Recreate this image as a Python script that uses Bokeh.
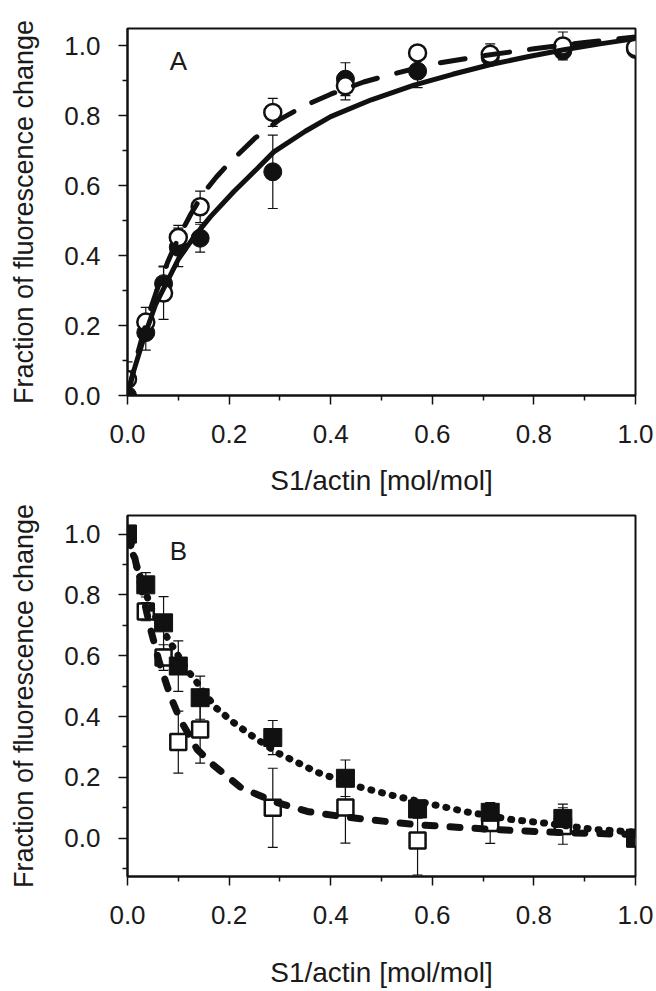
from bokeh.plotting import figure
from bokeh.models import (FixedTicker, Whisker, TeeHead, ColumnDataSource, Label,
                          Range1d, NumeralTickFormatter)
from bokeh.layouts import column
from bokeh.embed import file_html
from bokeh.resources import INLINE

# ---------------- data ----------------
x_ratio = [0.0, 0.036, 0.071, 0.1, 0.143, 0.286, 0.429, 0.571, 0.714, 0.857, 1.0]

# Panel A
a_filled = [0.0, 0.18, 0.32, 0.424, 0.45, 0.64, 0.905, 0.928, 0.967, 0.986, 0.99]
a_filled_err = [0.0, 0.05, 0.05, 0.055, 0.04, 0.105, 0.047, 0.047, 0.02, 0.02, 0.0]
a_open = [0.046, 0.21, 0.293, 0.452, 0.54, 0.81, 0.886, 0.98, 0.976, 1.0, 0.995]
a_open_err = [0.05, 0.042, 0.075, 0.035, 0.045, 0.04, 0.04, 0.02, 0.03, 0.04, 0.0]

a_solid_x = [0, 0.012, 0.032, 0.055, 0.078, 0.101, 0.131, 0.163, 0.209, 0.255, 0.288,
             0.35, 0.4, 0.48, 0.564, 0.64, 0.715, 0.79, 0.859, 0.93, 1.0]
a_solid_y = [0, 0.069, 0.164, 0.259, 0.326, 0.392, 0.454, 0.511, 0.583, 0.649, 0.697,
             0.756, 0.798, 0.846, 0.888, 0.919, 0.947, 0.97, 0.989, 1.006, 1.021]
a_dash_x = [0, 0.02, 0.04, 0.06, 0.08, 0.1, 0.125, 0.15, 0.175, 0.2, 0.25, 0.3, 0.35,
            0.4, 0.465, 0.518, 0.6, 0.7, 0.8, 0.9, 1.0]
a_dash_y = [0, 0.12, 0.225, 0.31, 0.385, 0.45, 0.52, 0.58, 0.625, 0.665, 0.735, 0.79,
            0.83, 0.862, 0.897, 0.918, 0.948, 0.972, 0.992, 1.01, 1.026]

# Panel B
b_filled = [1.0, 0.833, 0.708, 0.566, 0.462, 0.331, 0.197, 0.096, 0.085, 0.065, 0.0]
b_filled_err = [0.0, 0.04, 0.086, 0.083, 0.071, 0.056, 0.06, 0.03, 0.03, 0.047, 0.0]
b_open = [1.0, 0.745, 0.594, 0.316, 0.357, 0.1, 0.101, -0.008, 0.05, 0.04, 0.0]
b_open_err = [0.0, 0.03, 0.042, 0.102, 0.11, 0.13, 0.117, 0.113, 0.067, 0.06, 0.0]

b_dot_x = [0, 0.01, 0.02, 0.032, 0.045, 0.06, 0.081, 0.1, 0.119, 0.134, 0.173, 0.209,
           0.242, 0.295, 0.334, 0.373, 0.406, 0.455, 0.518, 0.603, 0.669, 0.757, 0.82,
           0.918, 1.0]
b_dot_y = [1.0, 0.94, 0.885, 0.825, 0.765, 0.71, 0.652, 0.6, 0.55, 0.518, 0.43, 0.38,
           0.34, 0.281, 0.249, 0.217, 0.198, 0.169, 0.142, 0.11, 0.086, 0.061, 0.05,
           0.029, 0.02]
b_dash_x = [0, 0.009, 0.029, 0.045, 0.062, 0.085, 0.104, 0.137, 0.17, 0.222, 0.288,
            0.354, 0.426, 0.564, 0.715, 0.859, 1.0]
b_dash_y = [1.0, 0.964, 0.808, 0.69, 0.582, 0.464, 0.389, 0.292, 0.239, 0.168, 0.12,
            0.088, 0.07, 0.045, 0.029, 0.018, 0.012]

x_ticks = [0.0, 0.2, 0.4, 0.6, 0.8, 1.0]
x_minor = [0.1, 0.3, 0.5, 0.7, 0.9]
y_ticks = [0.0, 0.2, 0.4, 0.6, 0.8, 1.0]
a_y_minor = [0.1, 0.3, 0.5, 0.7, 0.9]
b_y_minor = [-0.1, 0.1, 0.3, 0.5, 0.7, 0.9]

x_label = "S1/actin [mol/mol]"
y_label = "Fraction of fluorescence change"

FONT = "Liberation Sans"
INK = "#111111"


def make_fig(height, y0, y1, top, bottom, y_minor, xlab_standoff, panel, label_y):
    p = figure(width=654, height=height, x_range=Range1d(0, 1), y_range=Range1d(y0, y1),
               output_backend="svg", toolbar_location=None,
               min_border_left=127, min_border_right=19,
               min_border_top=top, min_border_bottom=bottom)
    p.xgrid.visible = False
    p.ygrid.visible = False
    p.outline_line_color = INK
    p.outline_line_width = 2
    p.outline_line_alpha = 1.0
    p.background_fill_color = "white"
    p.border_fill_color = "white"

    p.xaxis.ticker = FixedTicker(ticks=x_ticks, minor_ticks=x_minor)
    p.yaxis.ticker = FixedTicker(ticks=y_ticks, minor_ticks=y_minor)
    for ax in (p.xaxis, p.yaxis):
        ax.formatter = NumeralTickFormatter(format="0.0")
        ax.axis_line_color = INK
        ax.axis_line_width = 2
        ax.major_tick_out = 9
        ax.major_tick_in = 0
        ax.minor_tick_out = 5
        ax.minor_tick_in = 0
        ax.major_tick_line_color = INK
        ax.minor_tick_line_color = INK
        ax.major_tick_line_width = 1.5
        ax.minor_tick_line_width = 1.5
        ax.major_label_text_font = FONT
        ax.major_label_text_font_size = "26px"
        ax.major_label_text_color = "#1a1a1a"
        ax.axis_label_text_font = FONT
        ax.axis_label_text_font_style = "normal"
        ax.axis_label_text_color = "#1a1a1a"
    p.xaxis.axis_label_text_font_size = "28px"
    p.yaxis.axis_label_text_font_size = "27px"
    p.xaxis.axis_label = x_label
    p.yaxis.axis_label = y_label
    p.xaxis.major_label_standoff = 20
    p.yaxis.major_label_standoff = 18
    p.xaxis.axis_label_standoff = xlab_standoff
    p.yaxis.axis_label_standoff = 22

    p.add_layout(Label(x=0.1, y=label_y, text=panel, text_font=FONT,
                       text_font_size="26px", text_color="#1a1a1a",
                       text_align="center", text_baseline="middle"))
    return p


def add_errors(p, ys, errs):
    lo = [y - e for y, e in zip(ys, errs)]
    hi = [y + e for y, e in zip(ys, errs)]
    src = ColumnDataSource(dict(x=x_ratio, lo=lo, hi=hi))
    p.add_layout(Whisker(base="x", lower="lo", upper="hi", source=src,
                         line_color=INK, line_width=1.2,
                         upper_head=TeeHead(size=10, line_color=INK, line_width=1.2),
                         lower_head=TeeHead(size=10, line_color=INK, line_width=1.2)))


# ---------- Panel A ----------
pA = make_fig(500, 0.0, 1.05, 28, 105, a_y_minor, 19, "A", 0.957)
add_errors(pA, a_open, a_open_err)
add_errors(pA, a_filled, a_filled_err)
pA.scatter(x_ratio, a_filled, marker="circle", size=18, fill_color=INK, line_color=INK)
pA.scatter(x_ratio, a_open, marker="circle", size=17, fill_color="white",
           line_color=INK, line_width=2.5)
pA.line(a_solid_x, a_solid_y, line_color=INK, line_width=5, line_cap="round")
pA.line(a_dash_x, a_dash_y, line_color=INK, line_width=5, line_cap="round",
        line_dash="25 20")

# ---------- Panel B ----------
pB = make_fig(490, -0.126, 1.061, 15, 107, b_y_minor, 30, "B", 0.945)
add_errors(pB, b_open, b_open_err)
add_errors(pB, b_filled, b_filled_err)
pB.scatter(x_ratio, b_open, marker="square", size=16, fill_color="white",
           line_color=INK, line_width=2.5)
pB.scatter(x_ratio, b_filled, marker="square", size=18, fill_color=INK, line_color=INK)
pB.line(b_dot_x, b_dot_y, line_color=INK, line_width=7, line_cap="round",
        line_dash="1 10")
pB.line(b_dash_x, b_dash_y, line_color=INK, line_width=7, line_cap="round",
        line_dash="10 15")

layout = column(pA, pB)
open("out.html", "w").write(file_html(layout, INLINE))
